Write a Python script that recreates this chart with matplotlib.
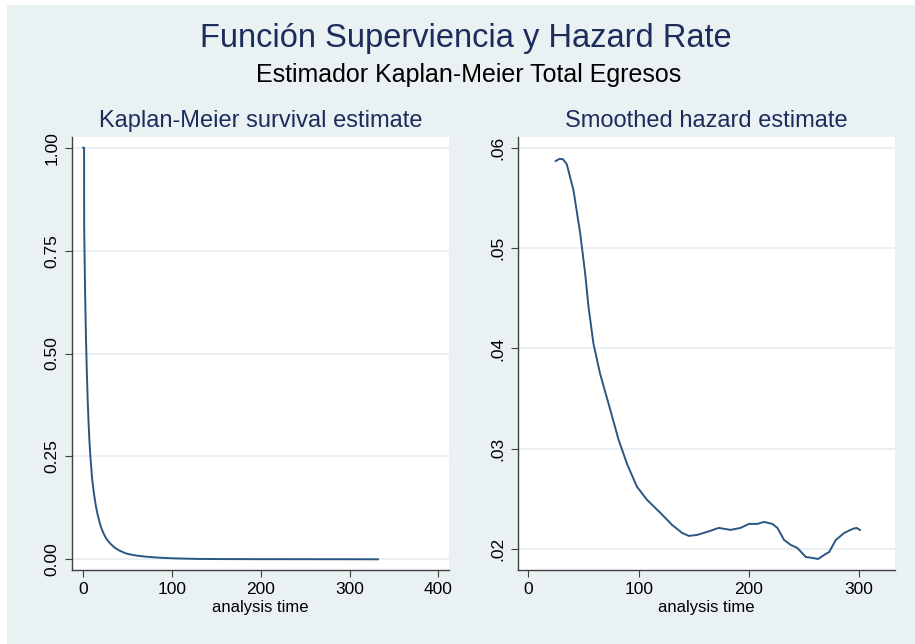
import matplotlib.pyplot as plt
from matplotlib.patches import Rectangle

# Kaplan-Meier survival estimate
km_time = [0, 0.9, 1, 2, 3, 4, 5, 6, 7, 8, 10, 12, 14, 16, 18, 20, 23, 26, 30,
           35, 40, 45, 50, 60, 70, 80, 90, 100, 115, 130, 160, 200, 250, 300, 332]
km_surv = [1.0, 1.0, 0.81, 0.655, 0.54, 0.455, 0.385, 0.33, 0.285, 0.25, 0.195,
           0.16, 0.132, 0.11, 0.093, 0.078, 0.062, 0.05, 0.039, 0.029, 0.022,
           0.017, 0.013, 0.009, 0.0065, 0.0048, 0.0035, 0.0025, 0.0016,
           0.0009, 0.0005, 0.0003, 0.0002, 0.0001, 0.0]

# Smoothed hazard estimate
hz_time = [24.8, 27.9, 31.2, 34.8, 40.9, 47, 51.5, 54.5, 59, 65, 72.7, 81.8,
           89.4, 98.5, 107.6, 119.7, 130.3, 139.4, 145.5, 153, 162, 172.7,
           183.3, 192.4, 200, 207.6, 213.6, 221.2, 225.8, 231.8, 237.9, 243.9,
           251.5, 257.6, 262.7, 268.2, 272.7, 278.8, 286.4, 294, 297.6, 300.6]
hz_rate = [0.0587, 0.0589, 0.0589, 0.0584, 0.0558, 0.0515, 0.0475, 0.0442,
           0.0405, 0.0375, 0.0345, 0.0309, 0.0285, 0.0262, 0.0249, 0.0236,
           0.0224, 0.0216, 0.0213, 0.0214, 0.0217, 0.0221, 0.0219, 0.0221,
           0.0225, 0.0225, 0.0227, 0.0225, 0.0221, 0.0209, 0.0204, 0.0201,
           0.0192, 0.0191, 0.0190, 0.0194, 0.0197, 0.0209, 0.0216, 0.0220,
           0.0221, 0.0219]

km_yticks = [0, 0.25, 0.5, 0.75, 1.0]
km_ylabels = ["0.00", "0.25", "0.50", "0.75", "1.00"]
km_xticks = [0, 100, 200, 300, 400]
hz_yticks = [0.02, 0.03, 0.04, 0.05, 0.06]
hz_ylabels = [".02", ".03", ".04", ".05", ".06"]
hz_xticks = [0, 100, 200, 300]

BG = "#eaf1f3"
NAVY = "#2a5782"
TITLE = "#1c2d5c"
GRID = "#e6eef0"

plt.rcParams["font.family"] = ["Liberation Sans", "DejaVu Sans"]

fig = plt.figure(figsize=(9.15, 6.44), dpi=100, facecolor="white")
fig.patches.append(Rectangle((7 / 915, 0), 1 - 7 / 915, 1 - 5 / 644,
                             transform=fig.transFigure, facecolor=BG,
                             edgecolor="none", zorder=-10))

fig.text(0.509, 1 - 39 / 644, "Función Superviencia y Hazard Rate",
         ha="center", va="center", fontsize=23.5, color=TITLE)
fig.text(0.512, 1 - 75 / 644, "Estimador Kaplan-Meier Total Egresos",
         ha="center", va="center", fontsize=18, color="black")


def style_axes(ax, title):
    ax.set_facecolor("white")
    for side in ("top", "right"):
        ax.spines[side].set_visible(False)
    for side in ("left", "bottom"):
        ax.spines[side].set_color("#404040")
        ax.spines[side].set_linewidth(1)
    ax.tick_params(direction="out", length=5, width=0.8, color="#404040",
                   labelsize=12.5, pad=4)
    ax.tick_params(axis="y", labelrotation=90)
    for lab in ax.get_yticklabels():
        lab.set_va("center")
    ax.grid(axis="y", color=GRID, linewidth=1.2)
    ax.set_axisbelow(True)
    ax.set_xlabel("analysis time", fontsize=12, labelpad=1.5)
    ax.set_title(title, fontsize=17, color=TITLE, pad=7)


# left: KM survival
ax1 = fig.add_axes([72 / 915, 74 / 644, 377 / 915, 433 / 644])
ax1.plot(km_time, km_surv, color=NAVY, lw=1.4)
ax1.set_xlim(-12.7, 412)
ax1.set_ylim(-0.026, 1.026)
ax1.set_xticks(km_xticks)
ax1.set_yticks(km_yticks)
ax1.set_yticklabels(km_ylabels)
style_axes(ax1, "Kaplan-Meier survival estimate")

# right: smoothed hazard
ax2 = fig.add_axes([518.3 / 915, 74 / 644, 376.7 / 915, 433 / 644])
ax2.plot(hz_time, hz_rate, color=NAVY, lw=1.4)
ax2.set_xlim(-9.1, 332.4)
ax2.set_ylim(0.0179, 0.0611)
ax2.set_xticks(hz_xticks)
ax2.set_yticks(hz_yticks)
ax2.set_yticklabels(hz_ylabels)
style_axes(ax2, "Smoothed hazard estimate")

fig.savefig("out.png", dpi=100, facecolor=fig.get_facecolor())
